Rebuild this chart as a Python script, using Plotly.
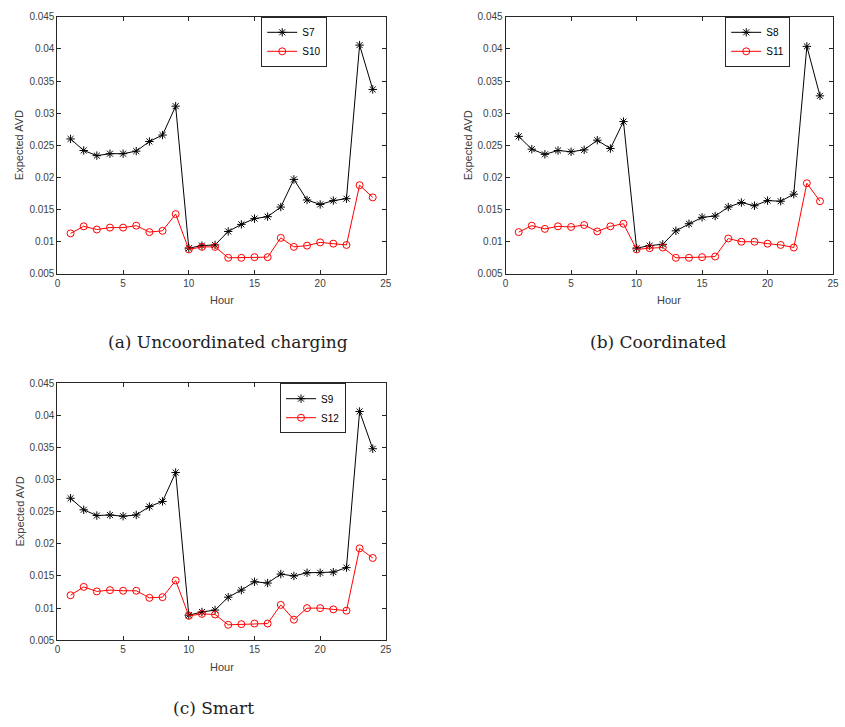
import plotly.graph_objects as go

hours = list(range(1, 25))

s7 = [0.0260, 0.0242, 0.0234, 0.0237, 0.0237, 0.0241, 0.0256, 0.0266, 0.0311, 0.0090,
      0.0094, 0.0095, 0.0116, 0.0127, 0.0136, 0.0139, 0.0154, 0.0197, 0.0165, 0.0158,
      0.0164, 0.0167, 0.0406, 0.0337]
s10 = [0.0113, 0.0124, 0.0119, 0.0122, 0.0122, 0.0125, 0.0115, 0.0117, 0.0143, 0.0088,
       0.0092, 0.0092, 0.0075, 0.0075, 0.0076, 0.0076, 0.0106, 0.0092, 0.0094, 0.0099,
       0.0097, 0.0095, 0.0188, 0.0169]
s8 = [0.0264, 0.0244, 0.0236, 0.0242, 0.0240, 0.0243, 0.0258, 0.0245, 0.0287, 0.0090,
      0.0094, 0.0096, 0.0117, 0.0128, 0.0138, 0.0140, 0.0154, 0.0161, 0.0156, 0.0164,
      0.0163, 0.0174, 0.0404, 0.0327]
s11 = [0.0115, 0.0125, 0.0120, 0.0124, 0.0123, 0.0126, 0.0116, 0.0124, 0.0128, 0.0088,
       0.0090, 0.0091, 0.0075, 0.0075, 0.0076, 0.0077, 0.0105, 0.0100, 0.0100, 0.0097,
       0.0095, 0.0091, 0.0191, 0.0163]
s9 = [0.0271, 0.0253, 0.0244, 0.0245, 0.0243, 0.0245, 0.0258, 0.0266, 0.0311, 0.0089,
      0.0094, 0.0097, 0.0117, 0.0128, 0.0141, 0.0139, 0.0153, 0.0150, 0.0155, 0.0155,
      0.0156, 0.0163, 0.0406, 0.0348]
s12 = [0.0120, 0.0133, 0.0126, 0.0128, 0.0127, 0.0127, 0.0116, 0.0117, 0.0143, 0.0088,
       0.0091, 0.0090, 0.0074, 0.0075, 0.0076, 0.0076, 0.0105, 0.0082, 0.0100, 0.0100,
       0.0098, 0.0096, 0.0193, 0.0178]

panels = [
    ("S7", s7, "S10", s10, "(a) Uncoordinated charging"),
    ("S8", s8, "S11", s11, "(b) Coordinated"),
    ("S9", s9, "S12", s12, "(c) Smart"),
]

ytick_vals = [0.005, 0.01, 0.015, 0.02, 0.025, 0.03, 0.035, 0.04, 0.045]
ytick_text = ["0.005", "0.01", "0.015", "0.02", "0.025", "0.03", "0.035", "0.04", "0.045"]
xtick_vals = [0, 5, 10, 15, 20, 25]

W, H = 845, 727
# plot areas in pixels: (left, right, top, bottom)
boxes = [(55, 387, 12, 273), (508, 839, 12, 273), (55, 387, 384, 645)]
legend_pos = [(261, 12), (730, 12), (280, 384)]
caption_pos = [(227, 342), (662, 342), (213, 714)]

AX = "#262626"
fig = go.Figure()
for i, (n1, d1, n2, d2, cap) in enumerate(panels):
    k = "" if i == 0 else str(i + 1)
    leg = "legend" if i == 0 else "legend" + str(i + 1)
    fig.add_trace(go.Scatter(x=hours, y=d1, name=n1, mode="lines+markers",
                             line=dict(color="black", width=1),
                             marker=dict(symbol="asterisk-open", size=7, color="black",
                                         line=dict(color="black", width=1)),
                             xaxis="x" + k, yaxis="y" + k, legend=leg))
    fig.add_trace(go.Scatter(x=hours, y=d2, name=n2, mode="lines+markers",
                             line=dict(color="red", width=1),
                             marker=dict(symbol="circle-open", size=7, color="red",
                                         line=dict(color="red", width=1)),
                             xaxis="x" + k, yaxis="y" + k, legend=leg))
    l, r, t, b = boxes[i]
    axcommon = dict(showgrid=False, zeroline=False, showline=True, linecolor=AX,
                    linewidth=1, mirror="ticks", ticks="inside", ticklen=4,
                    tickcolor=AX, tickfont=dict(family="Liberation Sans, Arial", size=10,
                                                color="#404040"))
    fig.update_layout(**{
        "xaxis" + k: dict(domain=[l / W, r / W], range=[0, 25], tickvals=xtick_vals,
                          anchor="y" + k, **axcommon),
        "yaxis" + k: dict(domain=[1 - b / H, 1 - t / H], range=[0.005, 0.045],
                          tickvals=ytick_vals, ticktext=ytick_text, anchor="x" + k,
                          **axcommon),
        leg: dict(x=legend_pos[i][0] / W, y=1 - legend_pos[i][1] / H, xanchor="left",
                  yanchor="top", xref="paper", yref="paper", bgcolor="white",
                  bordercolor=AX, borderwidth=1, itemwidth=30,
                  font=dict(family="Liberation Sans, Arial", size=10, color="black"),
                  tracegroupgap=0),
    })
    cx, cy = caption_pos[i]
    fig.add_annotation(x=cx / W, y=1 - cy / H, xref="paper", yref="paper",
                       text=cap, showarrow=False, xanchor="center", yanchor="middle",
                       font=dict(family="DejaVu Serif", size=17, color="#222222"))
    # axis titles
    fig.add_annotation(x=(l + r) / 2 / W, y=1 - (b + 27) / H, xref="paper", yref="paper",
                       text="Hour", showarrow=False, xanchor="center", yanchor="middle",
                       font=dict(family="Liberation Sans, Arial", size=11, color="#404040"))
    fig.add_annotation(x=(l - 38) / W, y=1 - (t + b) / 2 / H, xref="paper", yref="paper",
                       text="Expected AVD", showarrow=False, textangle=-90,
                       xanchor="center", yanchor="middle",
                       font=dict(family="Liberation Sans, Arial", size=11, color="#404040"))

fig.update_layout(width=W, height=H, margin=dict(l=0, r=0, t=0, b=0),
                  plot_bgcolor="white", paper_bgcolor="white", showlegend=True)
fig.write_html("out.html")
